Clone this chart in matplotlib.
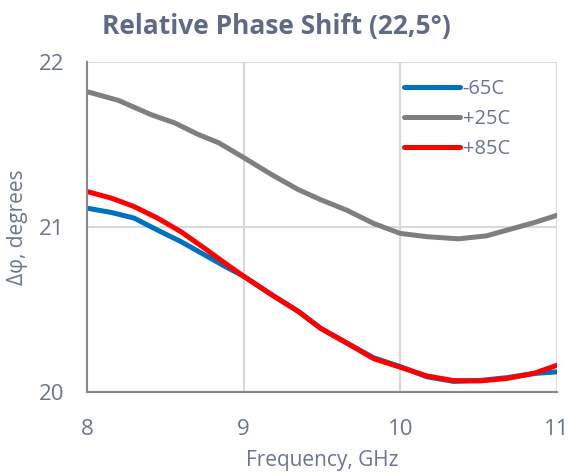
import matplotlib
matplotlib.use("Agg")
import matplotlib.pyplot as plt

plt.rcParams['font.family'] = ['Open Sans', 'DejaVu Sans']

freq_gray = [8.0, 8.2, 8.41, 8.56, 8.71, 8.84, 9.0, 9.18, 9.35, 9.49, 9.66, 9.83, 10.0, 10.17, 10.37, 10.55, 10.72, 10.87, 11.0]
phase_25 = [21.82, 21.767, 21.68, 21.63, 21.56, 21.51, 21.42, 21.316, 21.225, 21.165, 21.10, 21.02, 20.96, 20.94, 20.927, 20.945, 20.99, 21.03, 21.07]

freq = [8.0, 8.155, 8.30, 8.45, 8.60, 8.75, 8.88, 9.0, 9.18, 9.35, 9.49, 9.66, 9.83, 10.0, 10.17, 10.34, 10.51, 10.68, 10.85, 11.0]
phase_m65 = [21.113, 21.087, 21.053, 20.98, 20.91, 20.83, 20.76, 20.70, 20.587, 20.486, 20.385, 20.294, 20.205, 20.152, 20.09, 20.062, 20.068, 20.085, 20.11, 20.12]
phase_85 = [21.214, 21.174, 21.123, 21.053, 20.97, 20.87, 20.78, 20.70, 20.587, 20.486, 20.385, 20.294, 20.20, 20.148, 20.095, 20.067, 20.065, 20.08, 20.11, 20.16]

text_color = '#6b7590'
title_color = '#5f6b85'

fig = plt.figure(figsize=(5.69, 4.73), dpi=100)
ax = fig.add_axes([0.1529, 0.172, 0.826, 0.697])

ax.plot(freq, phase_m65, color='#0070c0', lw=3.6, label='-65C', solid_capstyle='round')
ax.plot(freq_gray, phase_25, color='#7f7f7f', lw=3.6, label='+25C', solid_capstyle='round')
ax.plot(freq, phase_85, color='#ff0000', lw=3.6, label='+85C', solid_capstyle='round')

ax.set_xlim(8, 11)
ax.set_ylim(20, 22)
ax.set_xticks([8, 9, 10, 11])
ax.set_yticks([20, 21, 22])
ax.grid(True, color='#d9d9d9', lw=1.5)
ax.set_axisbelow(True)
for s in ['top', 'right']:
    ax.spines[s].set_visible(False)
for s in ['left', 'bottom']:
    ax.spines[s].set_color('#898989')
    ax.spines[s].set_linewidth(1.5)
ax.tick_params(length=0, labelsize=16, colors=text_color)
ax.tick_params(axis='y', pad=16)
ax.tick_params(axis='x', pad=20)
ax.set_xlabel('Frequency, GHz', fontsize=15, color=text_color, labelpad=7)
ax.set_ylabel('Δφ, degrees', fontsize=15, color=text_color, labelpad=8)
fig.text(0.485, 0.945, 'Relative Phase Shift (22,5°)', fontsize=19, fontweight='bold',
         color=title_color, ha='center', va='center')

leg = ax.legend(loc='upper left', frameon=False, fontsize=14.5, handlelength=2.75,
                handletextpad=0.15, labelspacing=0.5, borderaxespad=0.0, borderpad=0.0,
                bbox_to_anchor=(0.675, 0.949))
for t in leg.get_texts():
    t.set_color(text_color)
for h in leg.get_lines():
    h.set_solid_capstyle('round')

fig.savefig('out.png', dpi=100)
